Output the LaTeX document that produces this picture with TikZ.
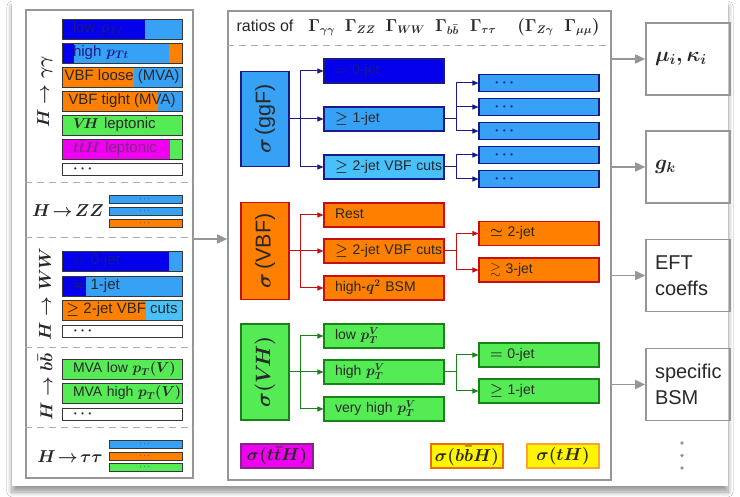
\documentclass[tikz,border=0pt]{standalone}
\usepackage[no-math]{fontspec}
\setmainfont{Liberation Sans}
\usepackage{amsmath,amssymb}
\usepackage{graphicx}
\usetikzlibrary{arrows.meta,shadows.blur,calc}

\definecolor{dblue}{RGB}{5,0,235}
\definecolor{mblue}{RGB}{55,162,245}
\definecolor{lblue}{RGB}{72,192,250}
\definecolor{navy}{RGB}{25,25,135}
\definecolor{orng}{RGB}{255,128,0}
\definecolor{vbfred}{RGB}{200,15,15}
\definecolor{grn}{RGB}{85,235,85}
\definecolor{dgrn}{RGB}{25,130,25}
\definecolor{mag}{RGB}{240,0,240}
\definecolor{magline}{RGB}{130,40,130}
\definecolor{yel}{RGB}{255,245,0}
\definecolor{yline}{RGB}{235,110,20}
\definecolor{ylinelt}{RGB}{250,165,50}
\definecolor{panelgray}{RGB}{150,150,150}
\definecolor{boxline}{RGB}{55,55,55}
\definecolor{txt}{RGB}{40,40,40}

\tikzset{
  nowrap/.style={execute at begin node=\hbox\bgroup, execute at end node=\egroup},
  base/.style={inner ysep=0pt, text height=10pt, text depth=3pt, text=txt},
  lbox/.style={base, draw=boxline, line width=0.8pt, minimum width=120pt,
    minimum height=20pt, font=\fontsize{15}{17}\selectfont\boldmath},
  lleft/.style={text width=98pt, inner xsep=11pt, align=left, nowrap},
  lctr/.style={inner xsep=0pt},
  dotbox/.style={minimum height=12pt, text height=7pt, text depth=0pt, fill=white},
  sbox/.style={draw=boxline, line width=0.7pt, minimum width=73pt, minimum height=8pt,
    inner sep=0pt, font=\fontsize{9}{9}\selectfont, text height=4.5pt, text depth=0pt,
    text=navy},
  cbox/.style={base, line width=1.1pt, minimum width=120pt, minimum height=24pt,
    font=\fontsize{14}{17}\selectfont\boldmath, text width=98pt, inner xsep=11pt,
    align=left, nowrap},
  ssbox/.style={cbox, minimum height=17pt, text height=7pt, text depth=0pt, text=navy},
  sigbox/.style={line width=1.1pt, minimum width=48pt, inner sep=0pt, text=txt,
    font=\fontsize{21.5}{24}\selectfont\boldmath},
  botbox/.style={line width=1.2pt, minimum width=72pt, minimum height=24pt, inner sep=0pt,
    text=txt, font=\fontsize{16}{18}\selectfont\boldmath},
  rbox/.style={draw=panelgray, line width=1.6pt, minimum width=84pt, minimum height=72pt,
    text width=66pt, inner xsep=9pt, align=left, text=txt,
    font=\fontsize{20}{26}\selectfont\boldmath},
  panel/.style={draw=panelgray, line width=1.6pt, inner sep=0pt},
  vlabel/.style={rotate=90, text=txt, font=\fontsize{16}{18}\selectfont\boldmath},
  hlabel/.style={text=txt, font=\fontsize{16.5}{18}\selectfont\boldmath},
  sep/.style={draw=panelgray!80, line width=1pt, dash pattern=on 7pt off 5pt},
  garrow/.style={draw=panelgray, line width=1.6pt, -{Triangle[length=10pt,width=9pt]}},
  conn/.style={line width=1pt},
  tip/.style={-{Triangle[length=6pt,width=5pt]}},
  split/.style n args={3}{path picture={
    \fill[#1] (path picture bounding box.south west) rectangle
      ([xshift=#3]path picture bounding box.north west);
    \fill[#2] ([xshift=#3]path picture bounding box.south west) rectangle
      (path picture bounding box.north east);}},
  triple/.style n args={5}{path picture={
    \fill[#1] (path picture bounding box.south west) rectangle
      ([xshift=#4]path picture bounding box.north west);
    \fill[#2] ([xshift=#4]path picture bounding box.south west) rectangle
      ([xshift=#5]path picture bounding box.north west);
    \fill[#3] ([xshift=#5]path picture bounding box.south west) rectangle
      (path picture bounding box.north east);}},
}

\begin{document}
\begin{tikzpicture}[x=1pt,y=-1pt]
\useasboundingbox (0,0) rectangle (740,497);
\fill[white] (0,0) rectangle (740,497);
% card with a soft drop shadow
\path[fill=white, blur shadow={shadow xshift=0pt, shadow yshift=-6pt,
  shadow blur radius=5pt, shadow blur steps=10, shadow opacity=40}]
  (12,0) rectangle (728,486);

% ---------- panels ----------
\node[panel, minimum width=167pt, minimum height=468pt] (lp) at (109.5,244) {};
\node[panel, minimum width=383pt, minimum height=469pt] (mp) at (419.5,245.5) {};

% ---------- left panel: channels ----------
\node[vlabel] (lgg) at (45,92) {$H\to\gamma\gamma$};
\node[lbox, lleft, split={dblue}{mblue}{83pt}, text=navy] (aa1) at (122,29) {low $p_{Tt}$};
\node[lbox, lleft, triple={dblue}{mblue}{orng}{12pt}{107pt}, text=navy] (aa2) at (122,53) {high $p_{Tt}$};
\node[lbox, lctr, split={orng}{mblue}{72pt}] (aa3) at (122,77) {VBF loose (MVA)};
\node[lbox, lctr, split={orng}{mblue}{96pt}] (aa4) at (122,101) {VBF tight (MVA)};
\node[lbox, lleft, fill=grn] (aa5) at (122,125) {$V\!H$ leptonic};
\node[lbox, lleft, split={mag}{grn}{108pt}, text=magline] (aa6) at (122,149) {$t\bar{t}H$ leptonic};
\node[lbox, lleft, dotbox] (aa7) at (122,169) {$\cdots$};

\draw[sep] (lp.west |- 0,183) -- (lp.east |- 0,183);

\node[hlabel] (lzz) at (68,211) {$H\!\to\! ZZ$};
\node[sbox, fill=mblue] (zz1) at (145.5,199.5) {$\cdots$};
\node[sbox, fill=mblue] (zz2) at (145.5,211) {$\cdots$};
\node[sbox, fill=orng] (zz3) at (145.5,223) {$\cdots$};

\draw[sep] (lp.west |- 0,238) -- (lp.east |- 0,238);

\node[vlabel] (lww) at (45,294) {$H\to WW$};
\node[lbox, lleft, split={dblue}{mblue}{107pt}, text=navy] (ww1) at (122,261) {$=$ 0-jet};
\node[lbox, lleft, split={dblue}{mblue}{24pt}] (ww2) at (122,286) {$=$ 1-jet};
\node[lbox, lctr, split={orng}{lblue}{84pt}] (ww3) at (122,310) {$\geq$ 2-jet VBF cuts};
\node[lbox, lleft, dotbox] (ww4) at (122,331) {$\cdots$};

\draw[sep] (lp.west |- 0,348) -- (lp.east |- 0,348);

\node[vlabel] (lbb) at (45,387) {$H\to b\bar{b}$};
\node[lbox, lleft, fill=grn, font=\fontsize{14}{17}\selectfont\boldmath] (bb1) at (122,369.5) {MVA low $p_T(V)$};
\node[lbox, lleft, fill=grn, font=\fontsize{14}{17}\selectfont\boldmath] (bb2) at (122,393.5) {MVA high $p_T(V)$};
\node[lbox, lleft, dotbox] (bb3) at (122,414) {$\cdots$};

\draw[sep] (lp.west |- 0,428) -- (lp.east |- 0,428);

\node[hlabel] (ltt) at (70,457) {$H\!\to\!\tau\tau$};
\node[sbox, fill=mblue] (tt1) at (145.5,444) {$\cdots$};
\node[sbox, fill=orng] (tt2) at (145.5,456) {$\cdots$};
\node[sbox, fill=grn] (tt3) at (145.5,467.5) {$\cdots$};

\draw[garrow] ([yshift=5pt]lp.east) -- ([yshift=5pt]lp.east -| mp.west);

% ---------- middle panel: production modes ----------
\node[anchor=west, text=txt, font=\fontsize{16}{18}\selectfont\boldmath] (hdr) at (233,27)
  {ratios of\hspace{15pt}$\Gamma_{\gamma\gamma}$\hspace{10pt}$\Gamma_{ZZ}$\hspace{10pt}$\Gamma_{WW}$\hspace{10pt}$\Gamma_{b\bar{b}}$\hspace{11pt}$\Gamma_{\tau\tau}$\hspace{21pt}$(\Gamma_{Z\gamma}\;\;\Gamma_{\mu\mu})$};
\draw[sep] (mp.west |- 0,46) -- (mp.east |- 0,46);

% ggF
\node[sigbox, draw=navy, fill=mblue, minimum height=95pt] (ggf) at (265,119)
  {\rotatebox{90}{$\sigma$\,(ggF)}};
\node[cbox, draw=navy, fill=dblue, text=navy] (g0) at (384,71) {$=$ 0-jet};
\node[cbox, draw=navy, fill=mblue] (g1) at (384,119) {$\geq$ 1-jet};
\node[cbox, draw=navy, fill=lblue] (g2) at (384,167) {$\geq$ 2-jet VBF cuts};
\node[ssbox, draw=navy, fill=mblue] (s1) at (539,83) {\,\,$\cdots$};
\node[ssbox, draw=navy, fill=mblue] (s2) at (539,107) {\,\,$\cdots$};
\node[ssbox, draw=navy, fill=mblue] (s3) at (539,131) {\,\,$\cdots$};
\node[ssbox, draw=navy, fill=mblue] (s4) at (539,155) {\,\,$\cdots$};
\node[ssbox, draw=navy, fill=mblue] (s5) at (539,179) {\,\,$\cdots$};

\coordinate (gj) at ([xshift=11pt]ggf.east);
\draw[conn, navy] (ggf.east) -- (gj);
\draw[conn, navy, tip] (gj) |- (g0.west);
\draw[conn, navy, tip] (gj) -- (g1.west);
\draw[conn, navy, tip] (gj) |- (g2.west);
\coordinate (g1j) at ([xshift=12pt]g1.east);
\draw[conn, navy] (g1.east) -- (g1j);
\draw[conn, navy, tip] (g1j) |- (s1.west);
\draw[conn, navy, tip] (g1j |- s2.west) -- (s2.west);
\draw[conn, navy, tip] (g1j) |- (s3.west);
\coordinate (g2j) at ([xshift=12pt]g2.east);
\draw[conn, navy] (g2.east) -- (g2j);
\draw[conn, navy, tip] (g2j) |- (s4.west);
\draw[conn, navy, tip] (g2j) |- (s5.west);

% VBF
\node[sigbox, draw=vbfred, fill=orng, minimum height=97pt] (vbf) at (265,251)
  {\rotatebox{90}{$\sigma$\,(VBF)}};
\node[cbox, draw=vbfred, fill=orng] (v0) at (384,215) {Rest};
\node[cbox, draw=vbfred, fill=orng] (v1) at (384,251) {$\geq$ 2-jet VBF cuts};
\node[cbox, draw=vbfred, fill=orng] (v2) at (384,288) {high-$q^2$ BSM};
\node[cbox, draw=vbfred, fill=orng] (v3) at (539,233.5) {$\simeq$ 2-jet};
\node[cbox, draw=vbfred, fill=orng] (v4) at (539,270) {$\gtrsim$ 3-jet};

\coordinate (vj) at ([xshift=11pt]vbf.east);
\draw[conn, vbfred] (vbf.east) -- (vj);
\draw[conn, vbfred, tip] (vj) |- (v0.west);
\draw[conn, vbfred, tip] (vj) -- (v1.west);
\draw[conn, vbfred, tip] (vj) |- (v2.west);
\coordinate (v1j) at ([xshift=12pt]v1.east);
\draw[conn, vbfred] (v1.east) -- (v1j);
\draw[conn, vbfred, tip] (v1j) |- (v3.west);
\draw[conn, vbfred, tip] (v1j) |- (v4.west);

% VH
\node[sigbox, draw=dgrn, fill=grn, minimum height=96pt] (vh) at (265,372)
  {\rotatebox{90}{$\sigma(V\!H)$}};
\node[cbox, draw=dgrn, fill=grn] (h0) at (384,336) {low $p_T^V$};
\node[cbox, draw=dgrn, fill=grn] (h1) at (384,372) {high $p_T^V$};
\node[cbox, draw=dgrn, fill=grn] (h2) at (384,409) {very high $p_T^V$};
\node[cbox, draw=dgrn, fill=grn] (h3) at (539,355) {$=$ 0-jet};
\node[cbox, draw=dgrn, fill=grn] (h4) at (539,391) {$\geq$ 1-jet};

\coordinate (hj) at ([xshift=11pt]vh.east);
\draw[conn, dgrn] (vh.east) -- (hj);
\draw[conn, dgrn, tip] (hj) |- (h0.west);
\draw[conn, dgrn, tip] (hj) -- (h1.west);
\draw[conn, dgrn, tip] (hj) |- (h2.west);
\coordinate (h1j) at ([xshift=12pt]h1.east);
\draw[conn, dgrn] (h1.east) -- (h1j);
\draw[conn, dgrn, tip] (h1j) |- (h3.west);
\draw[conn, dgrn, tip] (h1j) |- (h4.west);

% further production modes
\node[botbox, draw=magline, fill=mag] (tth) at (277,456) {$\sigma(t\bar{t}H)$};
\node[botbox, draw=yline, fill=yel] (bbh) at (467,456) {$\sigma(b\bar{b}H)$};
\node[botbox, draw=ylinelt, fill=yel] (th) at (563,456) {$\sigma(tH)$};

% ---------- right column: interpretations ----------
\node[rbox] (mu) at (688,59) {$\mu_i,\kappa_i$};
\node[rbox] (gk) at (688,167) {$g_k$};
\node[rbox] (eft) at (688,275.5) {EFT\\coeffs};
\node[rbox] (bsm) at (688,384.5) {specific\\BSM};
\draw[garrow] (mu.west -| mp.east) -- (mu.west);
\draw[garrow] (gk.west -| mp.east) -- (gk.west);
\draw[garrow] (eft.west -| mp.east) -- (eft.west);
\draw[garrow] (bsm.west -| mp.east) -- (bsm.west);
\foreach \yy in {443,455.5,468} \fill[panelgray] (682,\yy) circle (1.8pt);
\end{tikzpicture}
\end{document}
